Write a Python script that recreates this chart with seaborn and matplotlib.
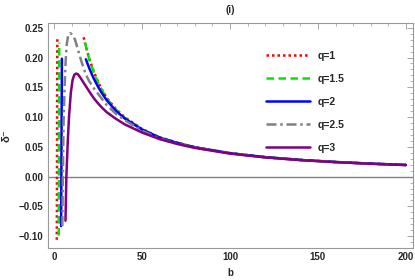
import matplotlib
matplotlib.use("Agg")
import matplotlib.pyplot as plt
from matplotlib.ticker import MultipleLocator, FuncFormatter
import pandas as pd
import seaborn as sns

# curve labels
q_labels = ["q=1", "q=1.5", "q=2", "q=2.5", "q=3"]

# q=1 (two branches)
b_q1_left = [1.55, 1.65, 1.75, 1.85]
d_q1_left = [-0.106, -0.01, 0.11, 0.232]
b_q1_right = [16.8, 18, 20, 22.5, 25, 27, 30, 35, 40, 50, 60, 70, 80, 100, 120, 140, 160, 180, 200]
d_q1_right = [0.234, 0.219, 0.198, 0.177, 0.159, 0.147, 0.132, 0.114, 0.100, 0.080, 0.066, 0.057,
              0.0495, 0.0395, 0.0328, 0.0281, 0.0246, 0.0218, 0.0196]

# q=1.5 (two branches)
b_q15_left = [2.65, 2.75, 2.85, 2.95]
d_q15_left = [-0.099, -0.01, 0.10, 0.225]
b_q15_right = [17.5, 18, 20, 22.5, 25, 27, 30, 35, 40, 50, 60, 70, 80, 100, 120, 140, 160, 180, 200]
d_q15_right = [0.225, 0.220, 0.197, 0.176, 0.158, 0.146, 0.131, 0.113, 0.099, 0.0795, 0.0658,
               0.0568, 0.0494, 0.0394, 0.0327, 0.0281, 0.0246, 0.0218, 0.0196]

# q=2 (two branches)
b_q2_left = [4.0, 4.15, 4.3, 4.45]
d_q2_left = [-0.083, 0.0, 0.10, 0.198]
b_q2_right = [18.1, 20, 22.5, 25, 27, 30, 35, 40, 50, 60, 70, 80, 100, 120, 140, 160, 180, 200]
d_q2_right = [0.197, 0.182, 0.165, 0.151, 0.141, 0.128, 0.111, 0.098, 0.079, 0.0655, 0.0566,
              0.0492, 0.0393, 0.0327, 0.0280, 0.0245, 0.0218, 0.0196]

# q=2.5
b_q25 = [4.7, 5.0, 5.4, 6.0, 6.6, 7.2, 8.0, 9.1, 10, 11, 11.9, 14, 15.7, 18, 20, 22.5, 25, 30,
         35, 40, 50, 60, 70, 80, 100, 120, 140, 160, 180, 200]
d_q25 = [-0.083, 0.0, 0.09, 0.15, 0.195, 0.222, 0.237, 0.241, 0.239, 0.235, 0.230, 0.209, 0.192,
         0.172, 0.160, 0.149, 0.139, 0.120, 0.106, 0.095, 0.077, 0.064, 0.0555, 0.0487, 0.0390,
         0.0325, 0.0279, 0.0244, 0.0217, 0.0195]

# q=3
b_q3 = [6.5, 7.0, 7.8, 8.5, 9.5, 10.5, 11.5, 12.5, 13.5, 15, 17.6, 20, 22.5, 25, 27.5, 30, 34.7,
        40, 50, 60, 70, 80, 100, 120, 140, 160, 180, 200]
d_q3 = [-0.074, 0.0, 0.06, 0.10, 0.140, 0.162, 0.171, 0.173, 0.172, 0.166, 0.154, 0.143, 0.132,
        0.123, 0.115, 0.108, 0.098, 0.088, 0.074, 0.063, 0.0548, 0.0482, 0.0387, 0.0322, 0.0277,
        0.0243, 0.0216, 0.0194]

pieces = [
    (q_labels[0], "q1a", b_q1_left, d_q1_left),
    (q_labels[0], "q1b", b_q1_right, d_q1_right),
    (q_labels[1], "q15a", b_q15_left, d_q15_left),
    (q_labels[1], "q15b", b_q15_right, d_q15_right),
    (q_labels[2], "q2a", b_q2_left, d_q2_left),
    (q_labels[2], "q2b", b_q2_right, d_q2_right),
    (q_labels[3], "q25", b_q25, d_q25),
    (q_labels[4], "q3", b_q3, d_q3),
]
frames = [pd.DataFrame({"b": b, "delta": d, "q": q, "branch": br}) for q, br, b, d in pieces]
df = pd.concat(frames, ignore_index=True)

palette = {"q=1": "#FF0000", "q=1.5": "#00E600", "q=2": "#0000FF",
           "q=2.5": "#808080", "q=3": "#800080"}
dashes = {"q=1": (1, 1.2), "q=1.5": (3, 1.8), "q=2": "",
          "q=2.5": (4, 1.5, 1, 1.5), "q=3": ""}

sns.set_style("white")
plt.rcParams["font.family"] = ["Liberation Sans", "DejaVu Sans"]

fig = plt.figure(figsize=(4.15, 2.8), dpi=100)
ax = fig.add_axes([0.115, 0.114, 0.88, 0.804])

ax.axhline(0, color="#808080", linewidth=1.0, zorder=1)
sns.lineplot(data=df, x="b", y="delta", hue="q", style="q", units="branch",
             estimator=None, sort=False, palette=palette, dashes=dashes,
             hue_order=q_labels, style_order=q_labels, linewidth=1.8, ax=ax, zorder=3)

ax.set_xlim(-3.6, 204)
ax.set_ylim(-0.12, 0.258)
ax.xaxis.set_major_locator(MultipleLocator(50))
ax.xaxis.set_minor_locator(MultipleLocator(10))
ax.yaxis.set_major_locator(MultipleLocator(0.05))
ax.yaxis.set_minor_locator(MultipleLocator(0.01))
ax.yaxis.set_major_formatter(FuncFormatter(lambda v, p: f"{v:.2f}".replace("-", "\u2212")
                                           if abs(v) > 1e-9 else "0.00"))
ax.tick_params(which="both", direction="in", color="#999999", top=True, right=True,
               labelsize=7, pad=3)
ax.tick_params(which="major", length=4, width=0.6)
ax.tick_params(which="minor", length=2, width=0.5)
for lbl in ax.get_xticklabels() + ax.get_yticklabels():
    lbl.set_fontweight("bold")
for sp in ax.spines.values():
    sp.set_color("#999999")
    sp.set_linewidth(0.8)

ax.set_xlabel("b", fontsize=7, fontweight="bold", labelpad=4)
ax.set_ylabel("\u03b4\u207b", fontsize=8, fontweight="bold", labelpad=5)
ax.set_title("(i)", fontsize=7, fontweight="bold", pad=7)

handles, labels = ax.get_legend_handles_labels()
leg = ax.legend(handles, labels, loc="upper left", bbox_to_anchor=(0.572, 0.918),
                frameon=False, handlelength=4.2, labelspacing=1.25,
                prop={"weight": "bold", "size": 7.5})

fig.savefig("out.png", dpi=100)
